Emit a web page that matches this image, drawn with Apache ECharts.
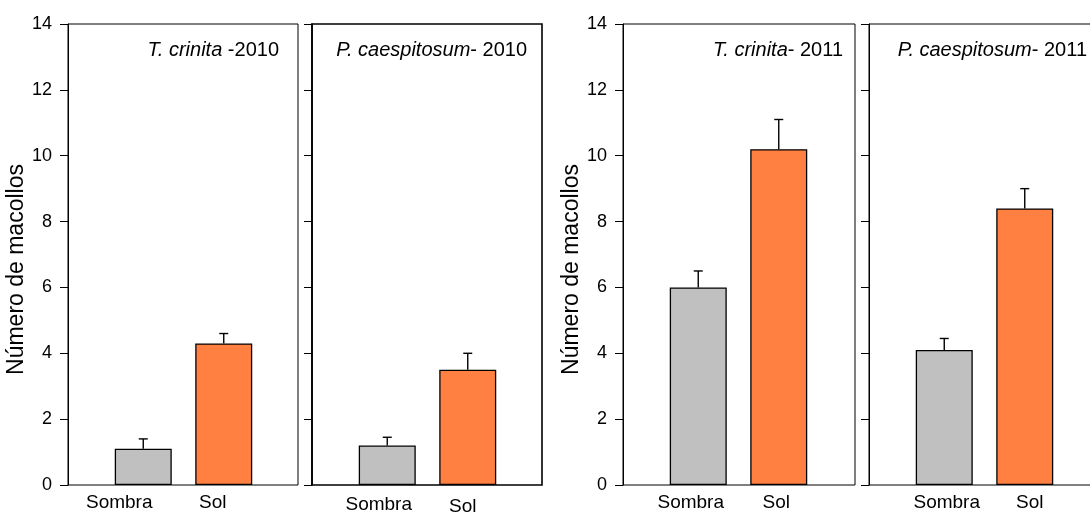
<!DOCTYPE html>
<html>
<head>
<meta charset="utf-8">
<script src="https://cdn.jsdelivr.net/npm/echarts@6/dist/echarts.min.js"></script>
<style>
  html, body { margin: 0; padding: 0; background: #fff; }
  #chart { width: 1090px; height: 512px; }
</style>
</head>
<body>
<div id="chart"></div>
<script>
// Tiller counts (mean + standard error) under shade and sun
const categories = ['Sombra', 'Sol'];
const yTicks = { min: 0, max: 14, step: 2 };
const yAxisTitle = 'Número de macollos';

const speciesNames = ['T. crinita', 'P. caespitosum', 'T. crinita', 'P. caespitosum'];
const yearSuffixes = [' -2010', '- 2010', '- 2011', '- 2011'];

const meanTc2010 = [1.1, 4.3];
const errTc2010 = [0.3, 0.3];
const meanPc2010 = [1.2, 3.5];
const errPc2010 = [0.25, 0.5];
const meanTc2011 = [6.0, 10.2];
const errTc2011 = [0.5, 0.9];
const meanPc2011 = [4.1, 8.4];
const errPc2011 = [0.35, 0.6];

const panelMeans = [meanTc2010, meanPc2010, meanTc2011, meanPc2011];
const panelErrs = [errTc2010, errPc2010, errTc2011, errPc2011];

// Layout of the four framed panels (pixels)
const FONT = '"Liberation Sans", Arial, sans-serif';
const TOP = 24, HEIGHT = 461;
const layout = [
  { left: 68,  width: 230, frame: 1,   labels: true,  titleRight: 811, lab: [[-24, 0], [-11, 0]] },
  { left: 312, width: 230, frame: 1.6, labels: false, titleRight: 563, lab: [[-8.5, 2], [-5, 4]] },
  { left: 623, width: 232, frame: 1,   labels: true,  titleRight: 247, lab: [[-7.5, 0], [-2.5, 0]] },
  { left: 869, width: 230, frame: 1,   labels: false, titleRight: 3,   lab: [[2.5, 0], [5, 0]] }
];
const barColors = ['#C0C0C0', '#FF8040'];

const grid = [], xAxis = [], yAxis = [], series = [], title = [];

layout.forEach((p, k) => {
  const fg = 2 * k, bg = 2 * k + 1;
  // frame grid: box + y axis with ticks
  grid.push({ left: p.left, top: TOP, width: p.width, height: HEIGHT, show: true,
    outerBoundsMode: 'none',
    borderColor: '#000', borderWidth: p.frame, backgroundColor: 'transparent' });
  // bar grid: the two category bands, centred in the frame
  grid.push({ left: p.left + 35, top: TOP, width: 161, height: HEIGHT, outerBoundsMode: 'none' });

  xAxis.push({ gridIndex: fg, type: 'value', min: 0, max: 1, show: false });
  yAxis.push({
    gridIndex: fg, type: 'value', min: yTicks.min, max: yTicks.max, interval: yTicks.step,
    axisLine: { show: true, lineStyle: { color: '#000', width: p.frame } },
    axisTick: { show: true, inside: false, length: 8, lineStyle: { color: '#000', width: 1 } },
    axisLabel: { show: p.labels, margin: 16, color: '#000', fontSize: 18, fontFamily: FONT },
    splitLine: { show: false },
    name: p.labels ? yAxisTitle : '',
    nameLocation: 'middle', nameGap: 38,
    nameTextStyle: { color: '#000', fontSize: 23, fontFamily: FONT, padding: [0, 30, 0, 0] }
  });

  const rich = {};
  p.lab.forEach(([dx, dy], i) => {
    rich['c' + i] = {
      fontSize: 19, fontFamily: FONT, color: '#000',
      padding: dx < 0 ? [dy, -2 * dx, 0, 0] : [dy, 0, 0, 2 * dx]
    };
  });
  xAxis.push({
    gridIndex: bg, type: 'category', data: categories,
    axisLine: { show: false }, axisTick: { show: false },
    axisLabel: { margin: 8, interval: 0, hideOverlap: false,
      formatter: (v, i) => '{c' + i + '|' + v + '}', rich }
  });
  yAxis.push({ gridIndex: bg, type: 'value', min: yTicks.min, max: yTicks.max, show: false });

  const means = panelMeans[k], errs = panelErrs[k];
  series.push({
    type: 'bar', xAxisIndex: bg, yAxisIndex: bg, barWidth: 57,
    data: means.map((m, i) => ({ value: m, itemStyle: { color: barColors[i] } })),
    itemStyle: { borderColor: '#000', borderWidth: 1.3 },
    silent: true, animation: false
  });
  series.push({
    type: 'custom', xAxisIndex: bg, yAxisIndex: bg, z: 5, silent: true, animation: false,
    data: means.map((m, i) => [i, m, m + errs[i]]),
    encode: { x: 0, y: [1, 2] },
    renderItem: (params, api) => {
      const base = api.coord([api.value(0), api.value(1)]);
      const top = api.coord([api.value(0), api.value(2)]);
      const st = { stroke: '#000', lineWidth: 1.4 };
      return { type: 'group', children: [
        { type: 'line', shape: { x1: base[0], y1: base[1], x2: top[0], y2: top[1] }, style: st },
        { type: 'line', shape: { x1: top[0] - 4.5, y1: top[1], x2: top[0] + 4.5, y2: top[1] }, style: st }
      ] };
    }
  });

  title.push({
    text: '{i|' + speciesNames[k] + '}{r|' + yearSuffixes[k] + '}',
    right: p.titleRight, top: 40, padding: 0,
    textStyle: { fontWeight: 'normal', rich: {
      i: { fontStyle: 'italic', fontWeight: 'normal', fontSize: 20, fontFamily: FONT, color: '#000' },
      r: { fontWeight: 'normal', fontSize: 20, fontFamily: FONT, color: '#000' }
    } }
  });
});

const chart = echarts.init(document.getElementById('chart'), null, { renderer: 'canvas' });
chart.setOption({
  backgroundColor: '#fff',
  animation: false,
  title, grid, xAxis, yAxis, series
});
</script>
</body>
</html>
